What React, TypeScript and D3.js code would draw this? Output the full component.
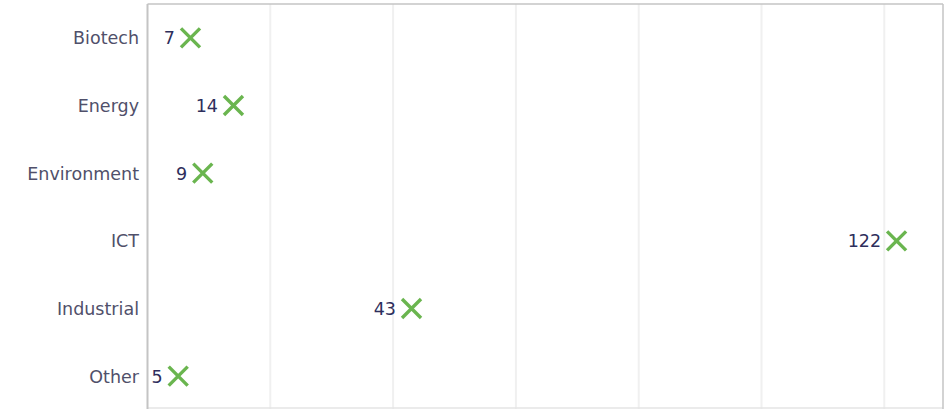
import React from "react";
import * as d3 from "d3";

const categories = ["Biotech", "Energy", "Environment", "ICT", "Industrial", "Other"];
const values = [7, 14, 9, 122, 43, 5];
const gridTicks = [20, 40, 60, 80, 100, 120];

const W = 948;
const H = 409;
const left = 147.5;
const right = 943;
const top = 4;
const bottom = 409;

export default function App() {
  const x = d3.scaleLinear().domain([0, 120]).range([left, 884.3]);
  const y = d3.scaleBand<string>().domain(categories).range([top, bottom + 1]);
  const font = "'DejaVu Sans', Verdana, sans-serif";
  const s = 9.5;
  return (
    <svg width={W} height={H} style={{ position: "absolute", left: 0, top: 0, background: "#fff" }}>
      {gridTicks.map((t) => (
        <line key={t} x1={x(t)} x2={x(t)} y1={top} y2={bottom} stroke="#f0f0f0" strokeWidth={2} />
      ))}
      <line x1={left} x2={right} y1={408} y2={408} stroke="#e4e4e4" strokeWidth={1.5} />
      <line x1={left} x2={right} y1={top} y2={top} stroke="#c4c4c4" strokeWidth={1.5} />
      <line x1={right} x2={right} y1={top} y2={bottom} stroke="#c4c4c4" strokeWidth={1.5} />
      <line x1={left} x2={left} y1={top} y2={bottom} stroke="#c4c4c4" strokeWidth={2} />
      {categories.map((c, i) => {
        const cy = (y(c) as number) + y.bandwidth() / 2;
        const cx = x(values[i]);
        return (
          <g key={c}>
            <text x={139} y={cy + 0.5} dy="0.35em" textAnchor="end" fontFamily={font} fontSize={17.5} fill="#50506a">
              {c}
            </text>
            <text x={cx - 15.5} y={cy + 0.5} dy="0.35em" textAnchor="end" fontFamily={font} fontSize={17.5} fill="#2e2e5c">
              {values[i]}
            </text>
            <path
              d={`M${cx - s},${cy - s}L${cx + s},${cy + s}M${cx - s},${cy + s}L${cx + s},${cy - s}`}
              stroke="#6ab54f"
              strokeWidth={3.4}
              fill="none"
            />
          </g>
        );
      })}
    </svg>
  );
}
